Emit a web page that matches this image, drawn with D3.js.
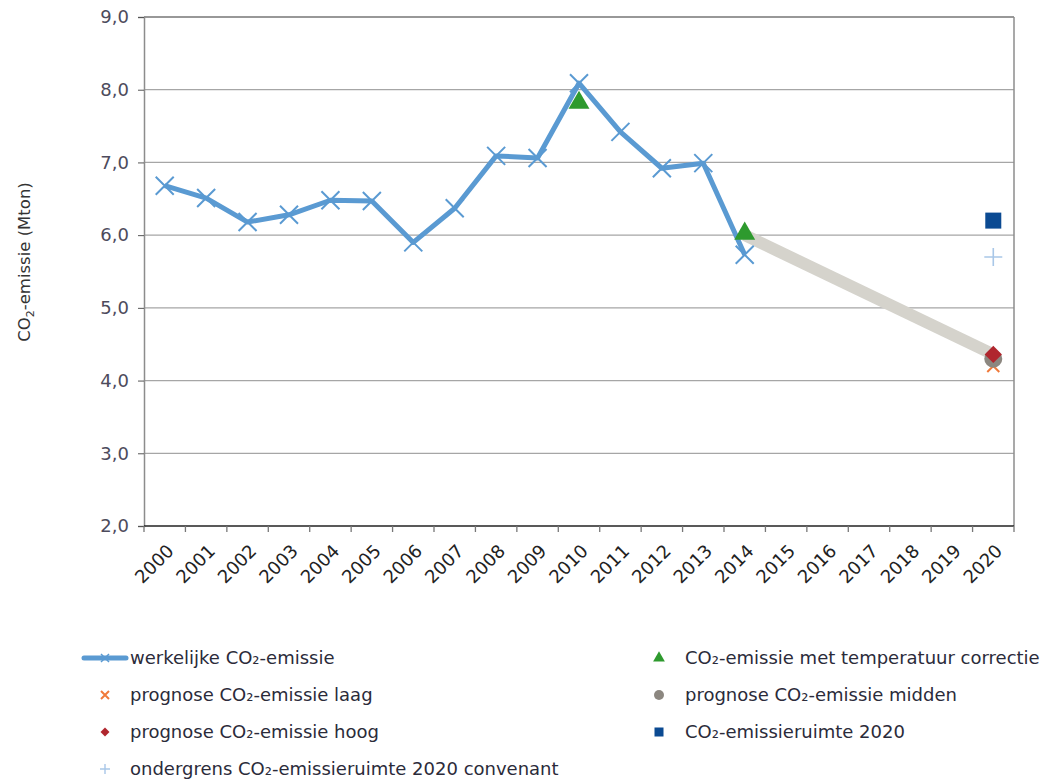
<!DOCTYPE html>
<html>
<head>
<meta charset="utf-8">
<script src="https://cdn.jsdelivr.net/npm/d3@7"></script>
<style>
  body { margin: 0; background: #fff; }
  text { font-family: "DejaVu Sans", Verdana, sans-serif; }
</style>
</head>
<body>
<svg id="chart" width="1041" height="782"></svg>
<script>
// categories (x axis)
const years = ['2000', '2001', '2002', '2003', '2004', '2005', '2006', '2007', '2008', '2009', '2010',
  '2011', '2012', '2013', '2014', '2015', '2016', '2017', '2018', '2019', '2020']
const yTicks = [2, 3, 4, 5, 6, 7, 8, 9]

// werkelijke CO2-emissie 2000..2014
const actualYears = ['2000', '2001', '2002', '2003', '2004', '2005', '2006', '2007', '2008', '2009', '2010',
  '2011', '2012', '2013', '2014']
const actualValues = [6.68, 6.51, 6.18, 6.28, 6.48, 6.47, 5.90, 6.37, 7.09, 7.06, 8.09, 7.42, 6.92, 6.99, 5.73]

// CO2-emissie met temperatuur correctie
const tempYears = ['2010', '2014']
const tempValues = [7.82, 6.02]

// trend band 2014 -> 2020
const trendYears = ['2014', '2020']
const trendValues = [6.0, 4.36]

// 2020 points
const laag = 4.2
const midden = 4.3
const hoog = 4.36
const ruimte = 6.2
const ondergrens = 5.7

const margin = { top: 17, right: 27, bottom: 256, left: 144 }
const width = 1041
const height = 782
const innerW = width - margin.left - margin.right
const innerH = height - margin.top - margin.bottom

const svg = d3.select('#chart')
const g = svg.append('g').attr('transform', `translate(${margin.left},${margin.top})`)

const x = d3.scaleBand().domain(years).range([0, innerW]).padding(0)
const y = d3.scaleLinear().domain([2, 9]).range([innerH, 0])
const cx = d => x(d) + x.bandwidth() / 2

// gridlines
g.append('g')
  .selectAll('line')
  .data(yTicks.filter(t => t > 2 && t < 9))
  .join('line')
  .attr('x1', 0).attr('x2', innerW)
  .attr('y1', d => y(d)).attr('y2', d => y(d))
  .attr('stroke', '#a6a6a6').attr('stroke-width', 1.2)

// plot frame
g.append('line').attr('x1', 0).attr('x2', innerW).attr('y1', y(9)).attr('y2', y(9))
  .attr('stroke', '#333').attr('stroke-width', 1.2)
g.append('line').attr('x1', innerW).attr('x2', innerW).attr('y1', y(9)).attr('y2', innerH)
  .attr('stroke', '#8c8c8c').attr('stroke-width', 1.5)

// y axis
const yAxis = g.append('g')
  .call(d3.axisLeft(y).tickValues(yTicks).tickSize(6).tickPadding(9)
    .tickFormat(d => d3.format('.1f')(d).replace('.', ',')))
yAxis.select('.domain').attr('stroke', '#8c8c8c').attr('stroke-width', 1.5)
yAxis.selectAll('.tick line').attr('stroke', '#555')
yAxis.selectAll('.tick text')
  .attr('fill', '#4d4b5c')
  .style('font-size', '18px')

// x axis
const xAxis = g.append('g')
  .attr('transform', `translate(0,${innerH})`)
  .call(d3.axisBottom(x).tickSize(0).tickFormat(d => d))
xAxis.select('.domain').remove()
g.append('line').attr('x1', 0).attr('x2', innerW).attr('y1', innerH).attr('y2', innerH)
  .attr('stroke', '#222').attr('stroke-width', 1.4)
g.append('g')
  .selectAll('line')
  .data(d3.range(years.length + 1))
  .join('line')
  .attr('x1', i => i * x.bandwidth()).attr('x2', i => i * x.bandwidth())
  .attr('y1', innerH).attr('y2', innerH + 6)
  .attr('stroke', '#777').attr('stroke-width', 1.3)
xAxis.selectAll('.tick text')
  .attr('fill', '#222')
  .style('font-size', '18px')
  .attr('text-anchor', 'end')
  .attr('dy', 0)
  .attr('transform', 'translate(8,24) rotate(-45)')

// y title
svg.append('text')
  .attr('transform', 'translate(30,262) rotate(-90)')
  .attr('text-anchor', 'middle')
  .attr('fill', '#333')
  .style('font-size', '16.5px')
  .call(t => {
    t.append('tspan').text('CO')
    t.append('tspan').text('2').attr('baseline-shift', '-4').style('font-size', '11px')
    t.append('tspan').text('-emissie (Mton)')
  })

// trend band
g.append('line')
  .attr('x1', cx(trendYears[0])).attr('y1', y(trendValues[0]))
  .attr('x2', cx(trendYears[1])).attr('y2', y(trendValues[1]))
  .attr('stroke', '#d5d3cc').attr('stroke-width', 12)

// actual line
const blue = '#5a9ad2'
g.append('path')
  .datum(actualYears.map((yr, i) => [yr, actualValues[i]]))
  .attr('fill', 'none')
  .attr('stroke', blue)
  .attr('stroke-width', 5)
  .attr('stroke-linejoin', 'round')
  .attr('d', d3.line().x(d => cx(d[0])).y(d => y(d[1])))

const cross = (sel, s) => sel.attr('d', `M${-s},${-s}L${s},${s}M${-s},${s}L${s},${-s}`)
g.append('g')
  .selectAll('path')
  .data(actualYears.map((yr, i) => [yr, actualValues[i]]))
  .join('path')
  .attr('transform', d => `translate(${cx(d[0])},${y(d[1])})`)
  .call(cross, 9)
  .attr('stroke', blue).attr('stroke-width', 2).attr('fill', 'none')

// temperature corrected
const green = '#2e9a2e'
const tri = d3.symbol().type(d3.symbolTriangle)
g.append('g')
  .selectAll('path')
  .data(tempYears.map((yr, i) => [yr, tempValues[i]]))
  .join('path')
  .attr('transform', d => `translate(${cx(d[0])},${y(d[1])})`)
  .attr('d', tri.size(190)())
  .attr('fill', green)

// 2020 points
const x20 = cx('2020')
g.append('path')
  .attr('transform', `translate(${x20},${y(laag)})`)
  .call(cross, 6)
  .attr('stroke', '#f07a3a').attr('stroke-width', 2)
g.append('circle')
  .attr('cx', x20).attr('cy', y(midden)).attr('r', 9)
  .attr('fill', '#8c8780')
g.append('path')
  .attr('transform', `translate(${x20},${y(hoog)}) rotate(45)`)
  .attr('d', d3.symbol().type(d3.symbolSquare).size(150)())
  .attr('fill', '#b0262e')
g.append('rect')
  .attr('x', x20 - 8).attr('y', y(ruimte) - 8).attr('width', 16).attr('height', 16)
  .attr('fill', '#0b4a92')
g.append('path')
  .attr('transform', `translate(${x20},${y(ondergrens)})`)
  .attr('d', 'M-9,0H9M0,-9V9')
  .attr('stroke', '#a9c7e8').attr('stroke-width', 1.6)

// legend
const legendItems = [
  { label: 'werkelijke CO₂-emissie', col: 0, row: 0, kind: 'line' },
  { label: 'prognose CO₂-emissie laag', col: 0, row: 1, kind: 'laag' },
  { label: 'prognose CO₂-emissie hoog', col: 0, row: 2, kind: 'hoog' },
  { label: 'ondergrens CO₂-emissieruimte 2020 convenant', col: 0, row: 3, kind: 'plus' },
  { label: 'CO₂-emissie met temperatuur correctie', col: 1, row: 0, kind: 'tri' },
  { label: 'prognose CO₂-emissie midden', col: 1, row: 1, kind: 'circle' },
  { label: 'CO₂-emissieruimte 2020', col: 1, row: 2, kind: 'square' },
]
const lg = svg.append('g')
const legend = lg.selectAll('g')
  .data(legendItems)
  .join('g')
  .attr('transform', d => `translate(${d.col ? 659 : 105},${658 + d.row * 37})`)

legend.append('text')
  .attr('x', d => d.col ? 26 : 25)
  .attr('dy', '0.35em')
  .attr('fill', '#2b2b3a')
  .style('font-size', '18px')
  .text(d => d.label)

legend.each(function (d) {
  const s = d3.select(this)
  if (d.kind === 'line') {
    s.append('line').attr('x1', -21).attr('x2', 21).attr('stroke', blue).attr('stroke-width', 5)
      .attr('stroke-linecap', 'round')
    s.append('path').call(cross, 4).attr('stroke', blue).attr('stroke-width', 1.5)
  } else if (d.kind === 'laag') {
    s.append('path').call(cross, 4).attr('stroke', '#f07a3a').attr('stroke-width', 2)
  } else if (d.kind === 'hoog') {
    s.append('path').attr('transform', 'rotate(45)')
      .attr('d', d3.symbol().type(d3.symbolSquare).size(40)()).attr('fill', '#b0262e')
  } else if (d.kind === 'plus') {
    s.append('path').attr('d', 'M-5,0H5M0,-5V5').attr('stroke', '#a9c7e8').attr('stroke-width', 1.4)
  } else if (d.kind === 'tri') {
    s.append('path').attr('d', d3.symbol().type(d3.symbolTriangle).size(60)()).attr('fill', green)
  } else if (d.kind === 'circle') {
    s.append('circle').attr('r', 5).attr('fill', '#8c8780')
  } else if (d.kind === 'square') {
    s.append('rect').attr('x', -4.5).attr('y', -4.5).attr('width', 9).attr('height', 9).attr('fill', '#0b4a92')
  }
})
</script>
</body>
</html>
